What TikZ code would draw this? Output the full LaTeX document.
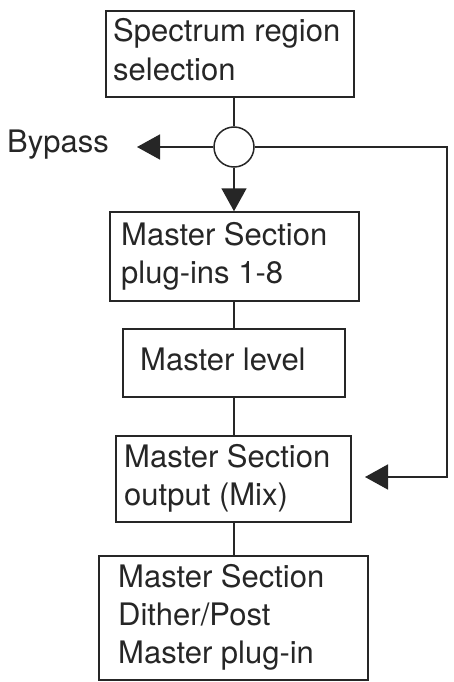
\documentclass[tikz,border=0pt]{standalone}
\usepackage{fontspec}
\setmainfont{TeX Gyre Heros}
\usetikzlibrary{arrows.meta}
\begin{document}
\begin{tikzpicture}[x=1pt,y=-1pt,
  boxstyle/.style={draw=black!85,line width=1.5pt,rectangle,inner sep=0pt},
  lbl/.style={anchor=base west,inner sep=0pt,text=black!85,font=\fontsize{31}{38}\selectfont},
  conn/.style={draw=black!85,line width=1.6pt},
  tip/.style={-{Triangle[length=23pt,width=25pt]}}]
\useasboundingbox (0,0) rectangle (454,682);
% boxes
\node[boxstyle,minimum width=248pt,minimum height=86pt] (b1) at (230,54) {};
\node[boxstyle,minimum width=249pt,minimum height=89pt] (b2) at (234.5,256.5) {};
\node[boxstyle,minimum width=222pt,minimum height=68pt] (b3) at (234,363) {};
\node[boxstyle,minimum width=235pt,minimum height=86pt] (b4) at (233.5,479) {};
\node[boxstyle,minimum width=269pt,minimum height=124pt] (b5) at (233.5,618) {};
% circle
\node[draw=black!85,line width=1.5pt,circle,minimum size=40pt,inner sep=0pt,fill=white] (c) at (234,147) {};
% labels
\node[lbl] (t1a) at (113,42) {Spectrum region};
\node[lbl] (t1b) at (113,81) {selection};
\node[lbl] (t2a) at (121,245) {Master Section};
\node[lbl] (t2b) at (121,283) {plug-ins 1-8};
\node[lbl] (t3) at (140,370) {Master level};
\node[lbl] (t4a) at (124,467) {Master Section};
\node[lbl] (t4b) at (124,505) {output (Mix)};
\node[lbl] (t5a) at (118,587) {Master Section};
\node[lbl] (t5b) at (118,625) {Dither/Post};
\node[lbl] (t5c) at (118,663) {Master plug-in};
\node[lbl] (byp) at (7,152) {Bypass};
% connector helper coordinates
\coordinate (bypEnd) at (137,147);
\coordinate (rc) at (447,147);
\coordinate (rd) at (447,477);
\coordinate (mixIn) at (365,477);
% connectors
\draw[conn] (c |- b1.south) -- (c.north);
\draw[conn,tip] (c.west) -- (bypEnd);
\draw[conn,tip] (c.south) -- (c |- b2.north);
\draw[conn] (c |- b2.south) -- (c |- b3.north);
\draw[conn] (c |- b3.south) -- (c |- b4.north);
\draw[conn] (c |- b4.south) -- (c |- b5.north);
\draw[conn,tip] (c.east) -- (rc) -- (rd) -- (mixIn);
\end{tikzpicture}
\end{document}
